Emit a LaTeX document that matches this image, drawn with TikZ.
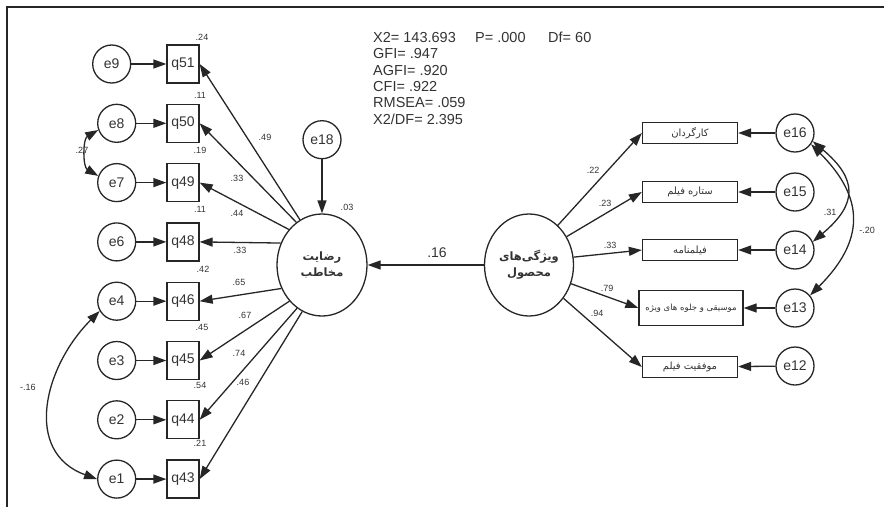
\documentclass[tikz,border=0pt]{standalone}
\usepackage{fontspec}
\setmainfont{Liberation Sans}
\newfontfamily\fafont[Script=Arabic]{DejaVu Sans}
\TeXXeTstate=1
\usetikzlibrary{arrows.meta,positioning,shapes.geometric}
\definecolor{Ink}{HTML}{262626}
\definecolor{Txt}{HTML}{333333}
\newcommand{\fatxt}[1]{{\fafont\beginR #1\endR}}

\begin{document}
\begin{tikzpicture}[x=1pt,y=1pt,node distance=20pt,
err/.style={circle,draw=Ink,line width=1.3pt,minimum size=38pt,inner sep=0pt,text=Txt,font=\fontsize{14}{16}\selectfont},
obs/.style={rectangle,draw=Ink,line width=1.3pt,minimum width=32pt,minimum height=38pt,inner sep=0pt,text=Txt,font=\fontsize{14}{16}\selectfont},
ind/.style={rectangle,draw=Ink,line width=1.3pt,minimum width=95pt,minimum height=21pt,inner sep=1pt,text=Txt,font=\fontsize{10}{11}\selectfont},
lat/.style={ellipse,draw=Ink,line width=1.3pt,inner sep=0pt,align=center,text=Txt,font=\fontsize{11.5}{16}\selectfont\bfseries},
arr/.style={-{Triangle[length=13pt,width=9pt]},line width=1.3pt,draw=Ink},
cov/.style={{Triangle[length=13pt,width=9pt]}-{Triangle[length=13pt,width=9pt]},line width=1.3pt,draw=Ink},
lbl/.style={text=Txt,inner sep=0pt,font=\fontsize{9}{10}\selectfont},
fit/.style={text=Txt,inner sep=0pt,align=left,anchor=north west,font=\fontsize{14.5}{16.4}\selectfont}]
\useasboundingbox (0,0) rectangle (884,-507);
\draw[line width=2.5pt,Ink] (7,-507) -- (7,-7) -- (884,-7);

% indicators of audience satisfaction
\node[obs] (q51) at (183,-64) {q51};
\node[obs,below=of q51] (q50) {q50};
\node[obs,below=of q50] (q49) {q49};
\node[obs,below=of q49] (q48) {q48};
\node[obs,below=of q48] (q46) {q46};
\node[obs,below=of q46] (q45) {q45};
\node[obs,below=of q45] (q44) {q44};
\node[obs,below=of q44] (q43) {q43};
\node[err,left=35pt of q51] (e9) {e9};
\node[err,left=30pt of q50] (e8) {e8};
\node[err,left=30pt of q49] (e7) {e7};
\node[err,left=30pt of q48] (e6) {e6};
\node[err,left=30pt of q46] (e4) {e4};
\node[err,left=30pt of q45] (e3) {e3};
\node[err,left=30pt of q44] (e2) {e2};
\node[err,left=30pt of q43] (e1) {e1};

% latent variables
\node[lat,minimum width=90pt,minimum height=102pt] (sat) at (322,-265) {\fatxt{رضایت}\\\fatxt{مخاطب}};
\node[err,above=54pt of sat] (e18) {e18};
\node[lat,minimum width=89pt,minimum height=102pt] (prod) at (529,-265) {\fatxt{ویژگی‌های}\\\fatxt{محصول}};

% indicators of product features
\node[ind] (dir) at (690,-133) {\fatxt{کارگردان}};
\node[ind] (star) at (690,-192) {\fatxt{ستاره فیلم}};
\node[ind] (scr) at (690,-250) {\fatxt{فیلمنامه}};
\node[ind,minimum width=104pt,minimum height=35pt,font=\fontsize{8.5}{10}\selectfont] (mus) at (691,-308) {\fatxt{موسیقی و جلوه های ویژه}};
\node[ind] (succ) at (690,-367) {\fatxt{موفقیت فیلم}};
\node[err] (e16) at (795,-133) {e16};
\node[err] (e15) at (795,-192) {e15};
\node[err] (e14) at (795,-250) {e14};
\node[err] (e13) at (795,-308) {e13};
\node[err] (e12) at (795,-366) {e12};

\foreach \u/\v in {e9/q51,e8/q50,e7/q49,e6/q48,e4/q46,e3/q45,e2/q44,e1/q43,e16/dir,e15/star,e14/scr,e13/mus,e12/succ,e18/sat}{\draw[arr] (\u)--(\v);}
\draw[arr] (prod.west)--(sat.east);
\foreach \a/\v in {116/q51,121/q50,133/q49,152/q48,210/q46,228/q45,240/q44,247/q43}{\draw[arr] (sat.\a)--(\v.east);}
\foreach \a/\v in {54/dir,37/star,10/scr,-24/mus,-44/succ}{\draw[arr] (prod.\a)--(\v.west);}

% covariances
\draw[cov] (e8.200) to[out=210,in=150] (e7.160);
\draw[cov] (e4.210) to[out=225,in=160,looseness=1.2] (e1.180);
\draw[cov] (e16.-25) to[out=-40,in=40,looseness=1.5] (e14.25);
\draw[cov] (e16.-35) to[out=-45,in=45,looseness=1.3] (e13.40);

% estimates
\foreach \x/\y/\t in {202/37/.24,200/95/.11,200/150/.19,200/209/.11,203/269/.42,202/327/.45,200/385/.54,200/443/.21,
265/137/.49,237/178/.33,237/213/.44,240/250/.33,239/282/.65,245/315/.67,239/353/.74,243/382/.46,
347/207/.03,593/170/.22,605/203/.23,610/245/.33,607/288/.79,597/313/.94,
82/150/.27,28/387/-.16,830/212/.31,867/230/-.20}{\node[lbl] at (\x,-\y) {\t};}
\node[lbl,font=\fontsize{14}{16}\selectfont] (beta) at (437,-253) {.16};

% fit indices
\node[fit] (fitidx) at (373,-32) {X2= 143.693\\GFI= .947\\AGFI= .920\\CFI= .922\\RMSEA= .059\\X2/DF= 2.395};
\node[fit] (pval) at (475,-32) {P= .000};
\node[fit] (dfval) at (548,-32) {Df= 60};
\end{tikzpicture}
\end{document}
